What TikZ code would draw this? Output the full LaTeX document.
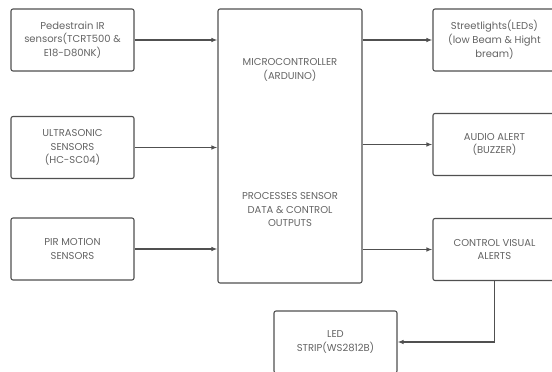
\documentclass[tikz,border=0pt]{standalone}
\usepackage{fontspec}
\setmainfont{Poppins}
\usepackage{xcolor}
\usetikzlibrary{positioning,arrows.meta}
\definecolor{edgegray}{HTML}{505050}
\definecolor{txtgray}{HTML}{646464}
\tikzset{
  blk/.style={rectangle, rounded corners=2pt, draw=edgegray, line width=1.1pt, fill=white,
    minimum width=123pt, minimum height=62pt, align=center, text=txtgray,
    font=\fontsize{10}{13.8}\selectfont},
  bigblk/.style={rectangle, rounded corners=2pt, draw=edgegray, line width=1.1pt,
    minimum width=144pt, minimum height=274pt},
  lbl/.style={align=center, text=txtgray, font=\fontsize{10}{13.5}\selectfont},
  wire/.style={draw=edgegray, line width=1.1pt, -{Latex[length=6pt,width=4.5pt]}},
  diagram/.style={x=1pt, y=-1pt}
}
\begin{document}
\begin{tikzpicture}[diagram]
  \useasboundingbox (0,0) rectangle (552,372);
  \clip (0,0) rectangle (552,372);
  % inputs
  \node[blk] (ped) at (72.5,40) {Pedestrain IR\\sensors(TCRT500 \&\\E18-D80NK)};
  \node[blk] (ultra) at (72.5,147.5) {ULTRASONIC\\SENSORS\\(HC-SC04)};
  \node[blk] (pir) at (72.5,249) {PIR MOTION\\SENSORS};
  % controller
  \node[bigblk] (mcu) at (290,146) {};
  \node[lbl] (mcutop) at (290,70) {MICROCONTROLLER\\(ARDUINO)};
  \node[lbl] (mcubot) at (290,210) {PROCESSES SENSOR\\DATA \& CONTROL\\OUTPUTS};
  % outputs
  \node[blk] (street) at (494.5,40) {Streetlights(LEDs)\\(low Beam \& Hight\\bream)};
  \node[blk] (audio) at (494.5,144.5) {AUDIO ALERT\\(BUZZER)};
  \node[blk] (visual) at (494.5,249.5) {CONTROL VISUAL\\ALERTS};
  \node[blk] (ledstrip) at (335.5,342) {LED\\STRIP(WS2812B)};
  \draw[wire] (ped.east) -- (ped.east -| mcu.west);
  \draw[wire] (ultra.east) -- (ultra.east -| mcu.west);
  \draw[wire] (pir.east) -- (pir.east -| mcu.west);
  \draw[wire] (mcu.east |- street.west) -- (street.west);
  \draw[wire] (mcu.east |- audio.west) -- (audio.west);
  \draw[wire] (mcu.east |- visual.west) -- (visual.west);
  \draw[wire] (visual.south) |- (ledstrip.east);
\end{tikzpicture}
\end{document}
